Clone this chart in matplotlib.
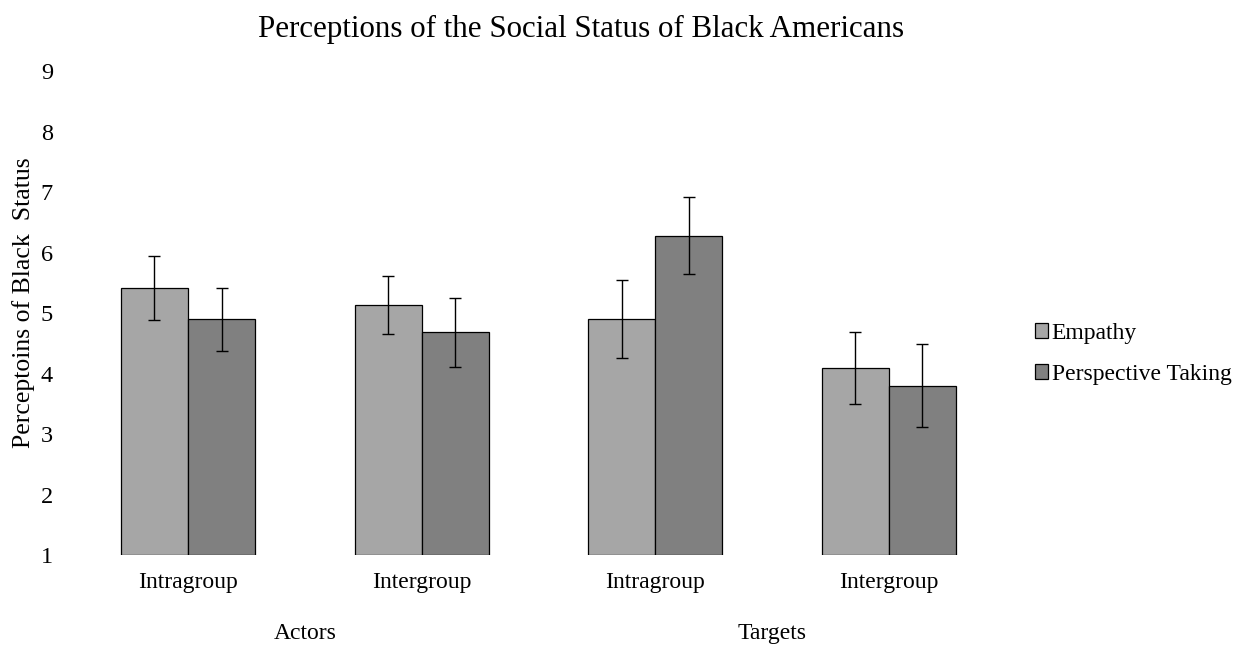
import matplotlib
matplotlib.use("Agg")
import matplotlib.pyplot as plt
import numpy as np

plt.rcParams['font.family'] = ['Liberation Serif', 'DejaVu Serif']

# Condition labels
conditions = ["Intragroup", "Intergroup", "Intragroup", "Intergroup"]
groups = ["Actors", "Targets"]
series = ["Empathy", "Perspective Taking"]

# Mean perceptions per condition
empathy = [5.41, 5.13, 4.90, 4.09]
perspective = [4.90, 4.68, 6.28, 3.80]

# Error bar half-widths
empathy_err = [0.53, 0.48, 0.64, 0.59]
perspective_err = [0.52, 0.57, 0.64, 0.69]

colors = ["#A6A6A6", "#808080"]

fig = plt.figure(figsize=(12.42, 6.48), dpi=100)
ax = fig.add_axes([0.0573, 0.1435, 0.7524, 0.7469])

x = np.arange(len(conditions))
width = 0.287
base = 1

for i, (vals, errs, lab) in enumerate([(empathy, empathy_err, series[0]),
                                       (perspective, perspective_err, series[1])]):
    offset = (i - 0.5) * width
    heights = [v - base for v in vals]
    ax.bar(x + offset, heights, width, bottom=base, color=colors[i],
           edgecolor="black", linewidth=0.9, label=lab, zorder=2)
    ax.errorbar(x + offset, vals, yerr=errs, fmt="none", ecolor="black",
                elinewidth=1.0, capsize=4, capthick=1.0, zorder=3)

ax.set_xlim(-0.5, 3.5)
ax.set_ylim(1, 9)
ax.set_yticks(range(1, 10))
ax.tick_params(axis="y", length=0, pad=13, labelsize=17.5)
ax.set_xticks(x)
ax.set_xticklabels(conditions)
ax.tick_params(axis="x", length=0, pad=12, labelsize=17)
for s in ax.spines.values():
    s.set_visible(False)

# Outer group labels centred under each pair of conditions
for gi, g in enumerate(groups):
    ax.text(2 * gi + 0.5, -0.163, g, transform=ax.get_xaxis_transform(),
            ha="center", va="center", fontsize=17)

ax.set_ylabel("Perceptoins of Black  Status", fontsize=18.5)
ax.yaxis.set_label_coords(-0.039, 0.522)

fig.suptitle("Perceptions of the Social Status of Black Americans",
             fontsize=22.3, y=0.955, va="center", x=0.468)

leg = fig.legend(loc="center left", bbox_to_anchor=(0.8335, 0.454),
                 frameon=False, fontsize=17, handlelength=0.55,
                 handleheight=0.55, handletextpad=0.15, labelspacing=0.85,
                 borderaxespad=0, borderpad=0)

fig.savefig("out.png", dpi=100)
